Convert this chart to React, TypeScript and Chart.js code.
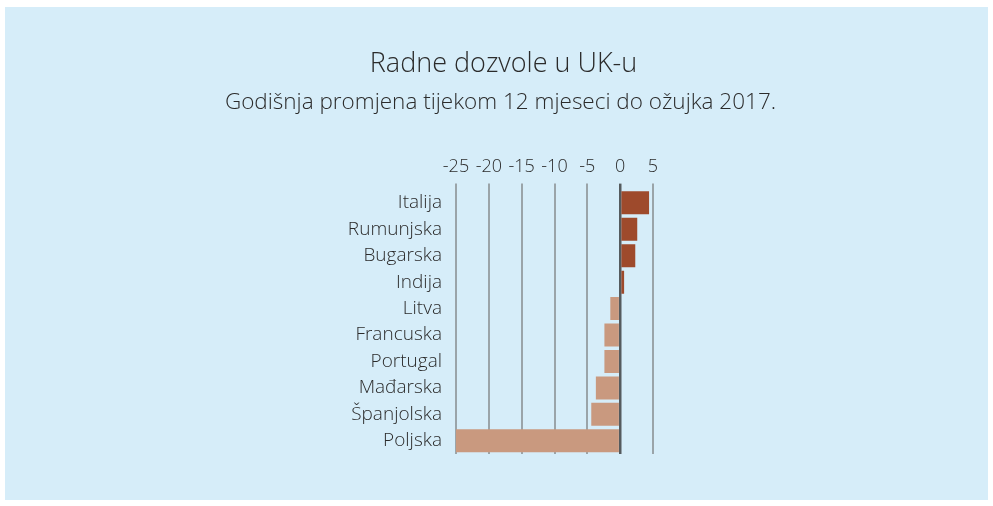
import React, { useEffect, useRef } from "react";
import { Chart, registerables } from "chart.js";

Chart.register(...registerables);

const countries = [
  "Italija",
  "Rumunjska",
  "Bugarska",
  "Indija",
  "Litva",
  "Francuska",
  "Portugal",
  "Mađarska",
  "Španjolska",
  "Poljska",
];
const changes = [4.4, 2.6, 2.3, 0.6, -1.5, -2.4, -2.4, -3.7, -4.4, -25];
const titleText = "Radne dozvole u UK-u";
const subtitleText = "Godišnja promjena tijekom 12 mjeseci do ožujka 2017.";
const xMin = -25;
const xMax = 5;
const xStep = 5;

const FONT = "'Open Sans', sans-serif";
const TEXT = "#2b2b2b";
const POS = "#9e4a2c";
const NEG = "#c9997f";

const headerPlugin = {
  id: "header",
  afterDraw(chart: any) {
    const ctx = chart.ctx;
    const cx = chart.width / 2 + 5;
    ctx.save();
    ctx.fillStyle = TEXT;
    ctx.textAlign = "center";
    ctx.textBaseline = "middle";
    ctx.font = `300 27px ${FONT}`;
    ctx.fillText(titleText, cx + 2, 57);
    ctx.font = `300 22.5px ${FONT}`;
    ctx.fillText(subtitleText, cx - 1, 96);
    ctx.restore();
  },
};

export default function App() {
  const ref = useRef<HTMLCanvasElement>(null);
  useEffect(() => {
    if (!ref.current) return;
    const chart = new Chart(ref.current, {
      type: "bar",
      data: {
        labels: countries,
        datasets: [
          {
            data: changes,
            backgroundColor: changes.map((v) => (v >= 0 ? POS : NEG)),
            borderWidth: 0,
            barPercentage: 0.87,
            categoryPercentage: 1,
          },
        ],
      },
      plugins: [headerPlugin],
      options: {
        indexAxis: "y",
        animation: false,
        responsive: true,
        maintainAspectRatio: false,
        layout: { padding: { left: 0, right: 335, top: 143, bottom: 46 } },
        plugins: {
          legend: { display: false },
          tooltip: { enabled: false },
        },
        scales: {
          x: {
            position: "top",
            min: xMin,
            max: xMax,
            ticks: {
              stepSize: xStep,
              color: TEXT,
              padding: 6,
              font: { family: FONT, size: 18, weight: "300" },
            },
            border: { display: false },
            grid: {
              drawTicks: true,
              tickLength: 6,
              color: (ctx: any) => (ctx.tick && ctx.tick.value === 0 ? "#555b5e" : "#9aa4a9"),
              lineWidth: (ctx: any) => (ctx.tick && ctx.tick.value === 0 ? 2.5 : 2),
            },
          },
          y: {
            ticks: {
              autoSkip: false,
              color: TEXT,
              padding: 14,
              font: { family: FONT, size: 19, weight: "300" },
            },
            border: { display: false },
            grid: { display: false, drawTicks: false },
            afterFit: (scale: any) => {
              scale.width = 451;
            },
          },
        },
      },
    });
    return () => chart.destroy();
  }, []);
  return (
    <div
      style={{
        position: "absolute",
        left: 5,
        top: 7,
        width: 983,
        height: 493,
        background: "#d6edf9",
      }}
    >
      <canvas ref={ref} />
    </div>
  );
}
